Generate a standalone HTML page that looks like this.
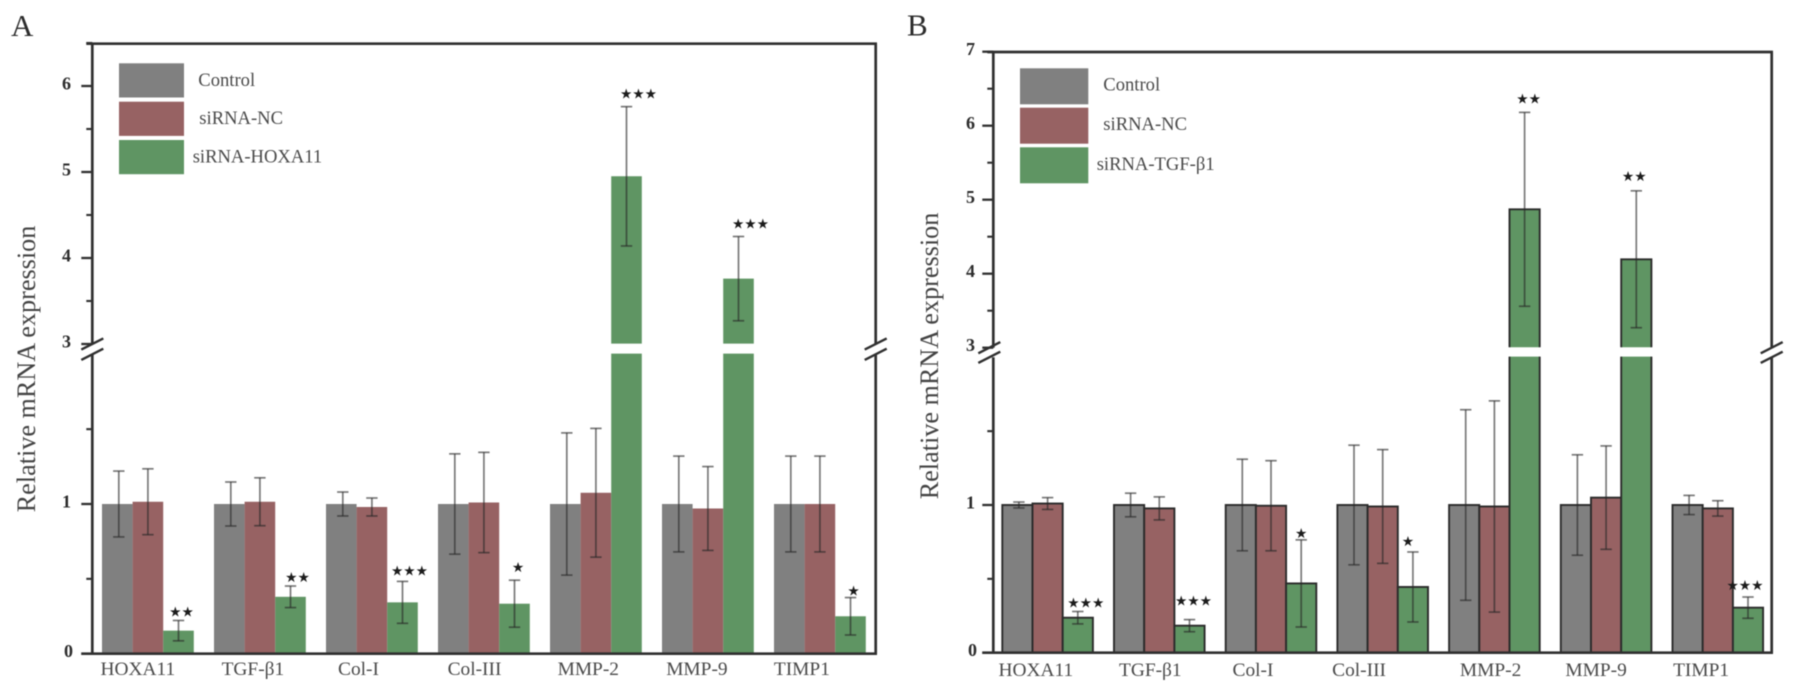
<!DOCTYPE html>
<html lang="en">
<head>
<meta charset="utf-8">
<title>Relative mRNA expression</title>
<style>
html,body{margin:0;padding:0;background:#fff;}
#figure{display:block;filter:blur(0.55px);}
text{font-family:"Liberation Serif",serif;}
</style>
</head>
<body>
<svg id="figure" xmlns="http://www.w3.org/2000/svg" width="1795" height="692" viewBox="0 0 1795 692"></svg>
<script>
// ---------- data ----------
const categories = ["HOXA11", "TGF-β1", "Col-I", "Col-III", "MMP-2", "MMP-9", "TIMP1"];

const controlA = [1.00, 1.00, 1.00, 1.00, 1.00, 1.00, 1.00];
const controlErrA = [0.22, 0.147, 0.08, 0.335, 0.475, 0.32, 0.32];
const siNcA = [1.015, 1.015, 0.98, 1.01, 1.075, 0.97, 1.00];
const siNcErrA = [0.22, 0.16, 0.06, 0.335, 0.43, 0.28, 0.32];
const siHoxa11A = [0.154, 0.38, 0.343, 0.334, 4.95, 3.76, 0.25];
const siHoxa11ErrA = [0.068, 0.072, 0.14, 0.157, 0.81, 0.49, 0.125];
const starsA = ["★★", "★★", "★★★", "★", "★★★", "★★★", "★"];
const legendA = ["Control", "siRNA-NC", "siRNA-HOXA11"];
const majorTicksA = [0, 1, 3, 4, 5, 6];
const minorTicksA = [0.5, 1.5, 3.5, 4.5, 5.5, 6.5];

const controlB = [1.00, 1.00, 1.00, 1.00, 1.00, 1.00, 1.00];
const controlErrB = [0.02, 0.08, 0.31, 0.405, 0.645, 0.34, 0.065];
const siNcB = [1.01, 0.977, 0.995, 0.99, 0.99, 1.05, 0.977];
const siNcErrB = [0.04, 0.078, 0.305, 0.385, 0.715, 0.35, 0.052];
const siTgfB = [0.237, 0.183, 0.469, 0.445, 4.87, 4.195, 0.305];
const siTgfErrB = [0.042, 0.041, 0.295, 0.237, 1.31, 0.925, 0.072];
const starsB = ["★★★", "★★★", "★", "★", "★★", "★★", "★★★"];
const legendB = ["Control", "siRNA-NC", "siRNA-TGF-β1"];
const majorTicksB = [0, 1, 3, 4, 5, 6, 7];
const minorTicksB = [0.5, 1.5, 3.5, 4.5, 5.5, 6.5];

// ---------- layout (styling only, not data) ----------
const layoutA = {
  key: "a", letter: "A", letterX: 11, letterY: 36,
  axisL: 92.3, axisR: 875.7, yTopPx: 43.7, y0: 653.7, y3: 344,
  kLow: 149.7, kHigh: 86, yMaxVal: 6.5,
  firstBar: 102, groupStep: 112, barW: 30.6, outline: false,
  labelNudge: [-10, -7, -13.4, -9.4, -7.6, -11, -18], catBase: 675,
  starDx: [3, 7, 7, 3.5, 12, 12, 3], starDy: [8, 8, 10, 12, 12, 12, 6],
  tickRight: 71, yTitleX: 35, yTitleY: 369, slashLeftDx: 0,
  legendX: 119, legendW: 65, legendY: [63.3, 101.7, 140], legendH: 34.2,
  legendTextX: [198.3, 199.3, 192.7], legendBase: [86, 124, 162.7]
};
const layoutB = {
  key: "b", letter: "B", letterX: 907, letterY: 35.3,
  axisL: 993.3, axisR: 1771.7, yTopPx: 52, y0: 652.7, y3: 347.7,
  kLow: 147.7, kHigh: 74, yMaxVal: 7,
  firstBar: 1002.3, groupStep: 111.7, barW: 30.2, outline: true,
  labelNudge: [-11.7, -9, -18, -23.6, -3.8, -10, -16.7], catBase: 676,
  starDx: [8, 4, 0, -5, 4, -2, -3], starDy: [8, 18, 6, 10, 13, 14, 11],
  tickRight: 975, yTitleX: 938, yTitleY: 356, slashLeftDx: -4,
  legendX: 1020, legendW: 68.3, legendY: [68.3, 107.7, 147.3], legendH: 36,
  legendTextX: [1103.3, 1103.3, 1096.7], legendBase: [90.7, 130, 170]
};

const colorGray = "#808080";
const colorRed = "#976263";
const colorGreen = "#5f9563";
const inkColor = "#303030";

const svg = document.getElementById("figure");
const NS = "http://www.w3.org/2000/svg";

function mk(tag, parent, props) {
  const el = document.createElementNS(NS, tag);
  for (const k in props) el.setAttribute(k, props[k]);
  parent.appendChild(el);
  return el;
}

function drawPanel(L, series, errors, stars, legendLabels, majorTicks, minorTicks) {
  const panel = mk("g", svg, {});
  
  

  // axis function with a broken scale: 0-2 lower segment, 3+ upper segment
  const yScale = function (v) {
    if (v <= 2) return L.y0 - v * L.kLow;
    return L.y3 - (v - 3) * L.kHigh;
  };
  const xScale = function (groupIndex, seriesIndex) {
    return L.firstBar + groupIndex * L.groupStep + seriesIndex * L.barW;
  };
  const yBreakLow = yScale(2) - 0.7;
  const yBreakHigh = yScale(3) - 0.4;

  const letter = mk("text", panel, { x: L.letterX, y: L.letterY, "font-size": 31, fill: "#2c2c2c" });
  letter.textContent = L.letter;
  
  

  const fills = [colorGray, colorRed, colorGreen];
  const seriesNames = ["control", "sirna-nc", "sirna-target"];

  // bars
  series.forEach(function (vals, s) {
    const g = mk("g", panel, {});
    
    
    vals.forEach(function (v, i) {
      const x = xScale(i, s);
      const w = L.barW;
      const props = { fill: fills[s] };
      if (L.outline) {
        props.stroke = "#2b2b2b";
        props["stroke-width"] = 1.9;
      }
      if (v > 2) {
        // open paths: the fill closes at the break, the outline stays open there
        const upperProps = Object.assign({}, props, {
          d: "M" + x + "," + yBreakHigh + "V" + yScale(v) + "H" + (x + w) + "V" + yBreakHigh
        });
        const upper = mk("path", g, upperProps);
        
        
        const lowerProps = Object.assign({}, props, {
          d: "M" + x + "," + yBreakLow + "V" + L.y0 + "H" + (x + w) + "V" + yBreakLow
        });
        const lower = mk("path", g, lowerProps);
        
        
      } else {
        const barProps = Object.assign({}, props, { x: x, width: w, y: yScale(v), height: L.y0 - yScale(v) });
        const bar = mk("rect", g, barProps);
        
        
      }
    });
  });

  // error bars
  series.forEach(function (vals, s) {
    vals.forEach(function (v, i) {
      const cx = xScale(i, s) + L.barW / 2 + (s === 0 ? 1.5 : 0);
      const e = errors[s][i];
      const yHi = yScale(v + e);
      const yLo = yScale(v - e);
      const g = mk("g", panel, { stroke: "#262626", "stroke-width": 1.7, "stroke-opacity": 0.62, fill: "none" });
      
      
      mk("line", g, { x1: cx, x2: cx, y1: yHi, y2: yLo });
      mk("line", g, { x1: cx - 5.7, x2: cx + 5.7, y1: yHi, y2: yHi });
      mk("line", g, { x1: cx - 5.7, x2: cx + 5.7, y1: yLo, y2: yLo });
    });
  });

  // significance stars (above the third series' error bar)
  stars.forEach(function (st, i) {
    const v = series[2][i];
    const top = yScale(v + errors[2][i]);
    const cx = xScale(i, 2) + L.barW / 2 + L.starDx[i];
    const t = mk("text", panel, {
      x: cx, y: top - L.starDy[i], "font-size": 13.8, fill: "#1c1c1c",
      "text-anchor": "middle", "dominant-baseline": "central",
      style: 'font-family:"DejaVu Sans",sans-serif'
    });
    t.textContent = st;
    
    
  });

  // axes
  const axes = mk("g", panel, { stroke: inkColor, "stroke-width": 2.7, fill: "none" });
  
  
  const yTop = L.yTopPx;
  const topLine = mk("line", axes, { x1: L.axisL - 6, x2: L.axisR + 1.3, y1: yTop, y2: yTop });
  
  
  const baseLine = mk("line", axes, { x1: L.axisL - 11, x2: L.axisR + 1.3, y1: L.y0, y2: L.y0 });
  
  
  [L.axisL, L.axisR].forEach(function (ax, idx) {
    const sideName = idx === 0 ? 'left' : 'right';
    const up = mk("line", axes, { x1: ax, x2: ax, y1: yTop, y2: yScale(3) });
    
    
    const lo = mk("line", axes, { x1: ax, x2: ax, y1: yScale(2), y2: L.y0 });
    
    
    const cx = ax + (idx === 0 ? L.slashLeftDx : 0);
    [yScale(3), yScale(2)].forEach(function (cy) {
      const sl = mk("line", axes, { x1: cx - 11, x2: cx + 11, y1: cy + 5.6, y2: cy - 5.6, "stroke-width": 2.4 });
      
      
    });
  });

  // ticks
  majorTicks.forEach(function (v) {
    const y = yScale(v);
    const tick = mk("line", axes, { x1: L.axisL - 11, x2: L.axisL, y1: y, y2: y, "stroke-width": 2.3 });
    
    
    const lab = mk("text", panel, {
      x: L.tickRight + (v === 0 ? 2 : 0), y: y + 3.5, "font-size": 18, "font-weight": "bold",
      fill: "#2c2c2c", "text-anchor": "end"
    });
    lab.textContent = String(v);
    
    
  });
  minorTicks.forEach(function (v) {
    const y = yScale(v);
    const tick = mk("line", axes, { x1: L.axisL - 6, x2: L.axisL, y1: y, y2: y, "stroke-width": 2.1 });
    
    
  });

  // category labels
  categories.forEach(function (c, i) {
    const cx = xScale(i, 0) + 1.5 * L.barW + L.labelNudge[i];
    const t = mk("text", panel, { x: cx, y: L.catBase, "font-size": 19.4, fill: "#4a4a4a", "text-anchor": "middle" });
    t.textContent = c;
    
    
  });

  // y axis title
  const title = mk("text", panel, {
    x: 0, y: 0, "font-size": 26.2, fill: "#444", "text-anchor": "middle",
    transform: "translate(" + L.yTitleX + "," + L.yTitleY + ") rotate(-90)"
  });
  title.textContent = "Relative mRNA expression";
  
  

  // legend
  const legend = mk("g", panel, {});
  
  
  legendLabels.forEach(function (lab, i) {
    const swatch = mk("rect", legend, { x: L.legendX, y: L.legendY[i], width: L.legendW, height: L.legendH, fill: fills[i] });
    
    
    const t = mk("text", legend, { x: L.legendTextX[i], y: L.legendBase[i], "font-size": 18.6, fill: "#4a4a4a" });
    t.textContent = lab;
    
    
  });
}

drawPanel(layoutA,
  [controlA, siNcA, siHoxa11A],
  [controlErrA, siNcErrA, siHoxa11ErrA],
  starsA, legendA, majorTicksA, minorTicksA);
drawPanel(layoutB,
  [controlB, siNcB, siTgfB],
  [controlErrB, siNcErrB, siTgfErrB],
  starsB, legendB, majorTicksB, minorTicksB);
</script>
</body>
</html>
